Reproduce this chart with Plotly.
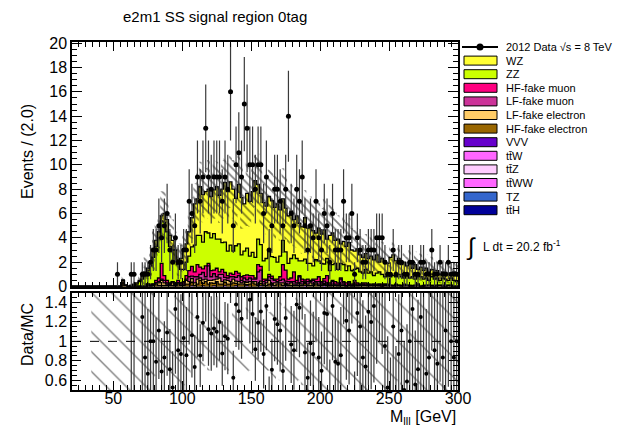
import math
import plotly.graph_objects as go

# binning: 140 bins of 2 GeV from 20 to 300
N_BINS = 140
BIN_LO, BIN_W = 20, 2

# observed events per bin
data = [
    0, 0, 0, 0, 0, 0, 0, 0, 0, 0,
    0, 0, 0, 0, 0, 0, 1, 0, 0, 0,
    0, 1, 1, 0, 0, 1, 1, 1, 2, 3,
    3, 5, 4, 5, 6, 3, 2, 4, 2, 2,
    3, 3, 7, 6, 5, 9, 7, 9, 13, 9,
    8, 9, 9, 9, 7, 9, 8, 16, 5, 10,
    11, 9, 15, 13, 10, 10, 8, 10, 10, 6,
    9, 3, 5, 8, 8, 7, 5, 8, 14, 6,
    5, 8, 7, 9, 5, 3, 5, 4, 7, 4,
    3, 6, 5, 2, 6, 3, 3, 3, 7, 4,
    4, 6, 1, 4, 3, 2, 2, 3, 3, 3,
    4, 4, 4, 2, 1, 1, 3, 1, 2, 2,
    1, 1, 2, 2, 1, 1, 2, 2, 1, 1,
    3, 1, 1, 2, 1, 1, 2, 1, 1, 1,
]

# MC backgrounds
wz = [
    0, 0, 0, 0, 0, 0, 0, 0, 0, 0,
    0, 0, 0, 0, 0, 0, 0, 0, 0, 0,
    0, 0, 0.1, 0.1, 0.1, 0.2, 0.3, 0.2, 0.3, 0.6,
    0.5, 0.5, 0.4, 0.7, 1.0, 0.9, 0.8, 0.9, 0.4, 0.9,
    1.5, 1.5, 2.0, 2.4, 3.4, 3.0, 4.0, 3.9, 3.3, 3.6,
    3.4, 3.6, 4.3, 3.6, 4.4, 4.9, 4.9, 5.2, 5.1, 3.9,
    4.9, 4.7, 3.9, 4.5, 4.5, 5.0, 6.3, 4.5, 4.2, 4.8,
    4.3, 4.4, 4.6, 4.1, 4.8, 3.8, 3.4, 3.6, 3.9, 3.9,
    2.9, 3.5, 3.1, 2.8, 3.4, 2.9, 3.2, 2.9, 2.2, 2.7,
    2.4, 2.8, 1.6, 2.9, 2.6, 1.9, 2.5, 1.6, 1.9, 2.0,
    1.9, 1.7, 1.5, 1.6, 1.4, 1.3, 1.3, 1.2, 1.3, 1.3,
    1.5, 0.8, 1.3, 1.3, 0.8, 1.6, 1.7, 1.3, 1.3, 1.0,
    1.3, 0.8, 1.3, 0.7, 1.2, 0.6, 0.8, 0.7, 0.8, 0.7,
    0.6, 0.5, 0.6, 0.5, 0.5, 0.3, 0.6, 0.3, 0.7, 0.6,
]
zz = [
    0, 0, 0, 0, 0, 0, 0, 0, 0, 0,
    0, 0, 0, 0, 0, 0, 0, 0, 0, 0,
    0, 0.1, 0.1, 0.2, 0.4, 0.6, 0.9, 1.1, 1.5, 2.2,
    2.8, 3.3, 3.5, 4.4, 4.0, 3.0, 2.6, 1.9, 1.3, 1.1,
    1.0, 1.1, 1.2, 1.6, 2.2, 2.4, 2.6, 2.2, 2.8, 2.5,
    2.7, 3.0, 2.4, 2.7, 2.2, 2.5, 2.0, 2.3, 1.9, 2.1,
    2.4, 1.8, 2.0, 2.2, 1.6, 1.9, 1.7, 2.1, 1.8, 1.5,
    1.7, 2.0, 1.6, 1.8, 1.4, 1.7, 2.0, 1.5, 1.3, 1.6,
    1.4, 1.8, 1.2, 1.5, 1.7, 1.3, 1.4, 1.1, 1.6, 1.3,
    1.5, 1.2, 1.4, 1.0, 1.3, 1.5, 1.1, 1.2, 1.4, 1.0,
    1.3, 1.1, 0.9, 1.2, 1.0, 0.8, 1.1, 0.9, 1.0, 0.7,
    0.9, 1.0, 0.8, 0.6, 0.9, 0.7, 0.8, 0.6, 0.9, 0.7,
    0.5, 0.8, 0.6, 0.7, 0.5, 0.6, 0.8, 0.5, 0.6, 0.4,
    0.7, 0.5, 0.6, 0.4, 0.6, 0.5, 0.4, 0.6, 0.5, 0.4,
]
hf_mu = [
    0, 0, 0, 0, 0, 0, 0, 0, 0, 0,
    0, 0, 0, 0, 0, 0, 0, 0, 0, 0,
    0, 0, 0, 0, 0, 0, 0, 0, 0.1, 0,
    0.2, 0.3, 1.3, 0.4, 0.2, 0.1, 0, 0.1, 0.2, 0,
    0.1, 0.3, 0.5, 0.8, 0.4, 1.0, 0.6, 0.3, 0.9, 0.2,
    0.5, 0.3, 0.7, 0.2, 0.4, 0.4, 0.2, 0.3, 0.2, 0.5,
    0.2, 0.3, 0.2, 0.4, 0.2, 0.3, 0.1, 0.6, 0.3, 0.2,
    0.1, 0.2, 0.2, 0.1, 0.2, 0.3, 1.2, 0.9, 0.2, 0.3,
    0.8, 0.2, 0.1, 0.2, 0.1, 0.2, 0.1, 0.1, 0.2, 0.4,
    0.1, 0.2, 0.6, 0.1, 0.1, 0.2, 0.1, 0.1, 0.1, 0.2,
    0.1, 0.1, 0.3, 0.1, 0, 0.1, 0.1, 0, 0.1, 0,
    0.1, 0, 0.2, 0, 0.1, 0, 0, 0.1, 0, 0,
    0.1, 0, 0, 0.1, 0, 0, 0, 0.1, 0, 0,
    0, 0.1, 0, 0, 0, 0.1, 0, 0, 0, 0,
]
lf_mu = [
    0, 0, 0, 0, 0, 0, 0, 0, 0, 0,
    0, 0, 0, 0, 0, 0, 0, 0, 0, 0,
    0, 0, 0, 0, 0, 0, 0, 0, 0.1, 0,
    0, 0.1, 0.1, 0.2, 0.1, 0, 0.1, 0, 0, 0.1,
    0.1, 0.1, 0.4, 0.2, 0.5, 0.2, 0.3, 0.6, 0.2, 1.2,
    0.3, 0.5, 0.2, 0.3, 0.6, 0.2, 0.2, 0.4, 0.2, 0.3,
    0.5, 0.2, 0.3, 0.2, 0.3, 0.2, 0.2, 1.0, 0.9, 0.2,
    0.2, 0.3, 0.4, 0.2, 0.1, 0.2, 0.3, 0.2, 0.2, 0.1,
    0.2, 0.1, 0.5, 0.2, 0.1, 0.2, 0.1, 0.3, 0.1, 0.2,
    0.1, 0.2, 0.1, 0.1, 0.2, 0.1, 0.1, 0.4, 0.1, 0.1,
    0.1, 0.1, 0, 0.1, 0.1, 0, 0.1, 0.1, 0, 0.1,
    0, 0.1, 0, 0.1, 0, 0, 0.1, 0, 0, 0.1,
    0, 0, 0.1, 0, 0, 0.1, 0, 0, 0, 0,
    0.1, 0, 0, 0, 0.1, 0, 0, 0, 0, 0,
]
lf_el = [
    0, 0, 0, 0, 0, 0, 0, 0, 0, 0,
    0, 0, 0, 0, 0, 0, 0, 0, 0.2, 0,
    0, 0, 0, 0, 0, 0, 0, 0.1, 0, 0.1,
    0.1, 0.2, 0.4, 0.2, 0.1, 0.1, 0.2, 0.1, 0.1, 0.1,
    0.1, 0.3, 0.2, 0.3, 0.2, 0.4, 0.2, 0.3, 0.2, 0.3,
    0.2, 0.3, 0.2, 0.5, 0.2, 0.2, 0.3, 0.2, 0.3, 0.2,
    0.2, 0.1, 0.2, 0.2, 0.2, 0.1, 0.2, 0.1, 0.2, 0.1,
    0.2, 0.3, 0.1, 0.2, 0.1, 0.1, 0.2, 0.1, 0.1, 0.2,
    0.1, 0.1, 0.2, 0.1, 0.1, 0.1, 0.2, 0.1, 0.1, 0.1,
    0.1, 0.1, 0.1, 0.1, 0.1, 0, 0.1, 0.1, 0.1, 0,
    0.1, 0, 0.1, 0.1, 0, 0.1, 0, 0.1, 0, 0.1,
    0, 0.1, 0, 0, 0.1, 0, 0, 0.1, 0, 0,
    0.1, 0, 0, 0, 0.1, 0, 0, 0, 0.1, 0,
    0, 0, 0.1, 0, 0, 0, 0, 0.1, 0, 0,
]
hf_el = [
    0, 0, 0, 0, 0, 0, 0, 0, 0, 0,
    0, 0, 0, 0, 0, 0, 0, 0, 0.3, 0.1,
    0, 0, 0, 0, 0, 0, 0, 0.1, 0, 0.1,
    0.2, 0.1, 0.1, 0.1, 0.1, 0.1, 0.1, 0, 0.2, 0.1,
    0.1, 0.2, 0.2, 0.3, 0.1, 0.2, 0.5, 0.2, 0.4, 0.2,
    0.3, 0.2, 0.4, 0.2, 0.2, 0.3, 0.2, 0.2, 0.3, 0.2,
    0.2, 0.2, 0.2, 0.1, 0.2, 0.3, 0.2, 0.1, 0.2, 0.1,
    0.1, 0.2, 0.1, 0.1, 0.2, 0.2, 0.1, 0.1, 0.1, 0.1,
    0.1, 0.1, 0.1, 0.1, 0.2, 0.1, 0.1, 0.1, 0.2, 0.1,
    0.1, 0.1, 0.1, 0, 0.1, 0.1, 0, 0.1, 0.1, 0,
    0.1, 0, 0.1, 0, 0.1, 0.1, 0.1, 0, 0.1, 0,
    0.1, 0, 0, 0.1, 0, 0.1, 0, 0, 0.1, 0,
    0, 0.1, 0, 0, 0, 0.1, 0, 0, 0, 0.1,
    0, 0, 0, 0.1, 0, 0, 0.1, 0, 0, 0,
]
vvv = [
    0, 0, 0, 0, 0, 0, 0, 0, 0, 0,
    0, 0, 0, 0, 0, 0, 0, 0, 0, 0,
    0, 0, 0, 0, 0, 0, 0, 0, 0, 0,
    0, 0, 0, 0, 0, 0, 0, 0, 0, 0,
    0, 0, 0, 0.05, 0, 0, 0, 0.05, 0, 0,
    0, 0.05, 0, 0, 0, 0.05, 0, 0, 0, 0.05,
    0, 0, 0, 0.05, 0, 0, 0, 0, 0.05, 0,
    0, 0, 0.05, 0, 0, 0, 0, 0.05, 0, 0,
    0, 0, 0, 0, 0.05, 0, 0, 0, 0, 0,
    0, 0.05, 0, 0, 0, 0, 0, 0, 0, 0,
    0, 0, 0, 0, 0, 0, 0, 0, 0, 0,
    0, 0, 0, 0, 0, 0, 0, 0, 0, 0,
    0, 0, 0, 0, 0, 0, 0, 0, 0, 0,
    0, 0, 0, 0, 0, 0, 0, 0, 0, 0,
]
# negligible in this region
ttw = [0.0] * N_BINS
ttz = [0.0] * N_BINS
ttww = [0.0] * N_BINS
tz = [0.0] * N_BINS
tth = [0.0] * N_BINS

# relative MC uncertainty (hatched band)
band_rel = [
    0, 0, 0, 0, 0, 0, 0, 1, 1, 1,
    1, 1, 1, 1, 1, 1, 1, 1, 1, 1,
    1, 1, 1, 1, 1, 1, 1, 0.6, 0.6, 0.6,
    0.35, 0.3, 0.35, 0.3, 0.3, 0.4, 0.45, 0.5, 0.6, 0.55,
    0.45, 0.4, 0.35, 0.3, 0.25, 0.3, 0.25, 0.3, 0.25, 0.3,
    0.25, 0.3, 0.25, 0.3, 0.3, 0.25, 0.3, 0.25, 0.3, 0.35,
    0.3, 0.35, 0.3, 0.35, 0.3, 0.3, 0.25, 0.3, 0.35, 0.3,
    0.35, 0.3, 0.35, 0.4, 0.35, 0.4, 0.35, 0.4, 0.4, 0.35,
    0.4, 0.45, 0.4, 0.45, 0.4, 0.5, 0.45, 0.5, 0.55, 0.5,
    0.5, 0.55, 0.5, 0.6, 0.55, 0.6, 0.5, 0.55, 0.6, 0.6,
    0.55, 0.6, 0.6, 0.55, 0.6, 0.65, 0.6, 0.6, 0.65, 0.6,
    0.6, 0.65, 0.6, 0.55, 0.5, 0.45, 0.4, 0.45, 0.4, 0.45,
    0.4, 0.45, 0.5, 0.55, 0.6, 0.65, 0.7, 0.7, 0.75, 0.7,
    0.75, 0.7, 0.8, 0.75, 0.8, 0.7, 0.8, 0.75, 0.7, 0.8,
]

for arr in (data, wz, zz, hf_mu, lf_mu, lf_el, hf_el, vvv, band_rel):
    assert len(arr) == N_BINS

edges = [BIN_LO + BIN_W * k for k in range(N_BINS + 1)]
centers = [e + BIN_W / 2 for e in edges[:-1]]

# stack order bottom -> top
stack = [
    ("ttH", tth, "#000099"),
    ("TZ", tz, "#3366cc"),
    ("ttWW", ttww, "#ff66ff"),
    ("ttZ", ttz, "#ffccff"),
    ("ttW", ttw, "#ff66ff"),
    ("VVV", vvv, "#6600cc"),
    ("HF-fake electron", hf_el, "#996600"),
    ("LF-fake electron", lf_el, "#ffcc66"),
    ("LF-fake muon", lf_mu, "#cc3399"),
    ("HF-fake muon", hf_mu, "#ff0080"),
    ("ZZ", zz, "#ccff00"),
    ("WZ", wz, "#ffff33"),
]

fig = go.Figure()

# filled stack
for name, vals, col in stack:
    fig.add_trace(go.Bar(
        x=centers, y=vals, width=BIN_W, marker=dict(color=col, line=dict(width=0)),
        xaxis="x", yaxis="y", name=name,
    ))

# outlines of each stacked layer
cum = [0.0] * N_BINS
for name, vals, col in stack:
    cum = [c + v for c, v in zip(cum, vals)]
    if max(vals) <= 0:
        continue
    fig.add_trace(go.Scatter(
        x=edges, y=cum + [cum[-1]], mode="lines", line=dict(color="black", width=1.3, shape="hv"),
        xaxis="x", yaxis="y", hoverinfo="skip",
    ))
total = cum

# hatched uncertainty band in main panel
up = [t * (1 + r) for t, r in zip(total, band_rel)]
lo = [max(t * (1 - r), 0) for t, r in zip(total, band_rel)]
px, py = [], []
for k in range(N_BINS):
    px += [edges[k], edges[k + 1]]
    py += [up[k], up[k]]
for k in reversed(range(N_BINS)):
    px += [edges[k + 1], edges[k]]
    py += [lo[k], lo[k]]
hatch = dict(shape="\\", fgcolor="black", bgcolor="rgba(0,0,0,0)", size=6, solidity=0.3, fillmode="overlay")
fig.add_trace(go.Scatter(
    x=px, y=py, fill="toself", fillcolor="rgba(0,0,0,0)", fillpattern=hatch,
    mode="lines", line=dict(width=0), xaxis="x", yaxis="y", hoverinfo="skip",
))

# data points
dx = [c for c, n in zip(centers, data) if n > 0]
dy = [n for n in data if n > 0]
fig.add_trace(go.Scatter(
    x=dx, y=dy, mode="markers", marker=dict(color="black", size=5),
    error_y=dict(type="data", array=[math.sqrt(n) for n in dy], width=0, thickness=1.2, color="#3a3a3a"),
    xaxis="x", yaxis="y",
))

# ratio band
rpx, rpy = [], []
for k in range(N_BINS):
    rpx += [edges[k], edges[k + 1]]
    rpy += [1 + band_rel[k]] * 2
for k in reversed(range(N_BINS)):
    rpx += [edges[k + 1], edges[k]]
    rpy += [1 - band_rel[k]] * 2
fig.add_trace(go.Scatter(
    x=rpx, y=rpy, fill="toself", fillcolor="rgba(0,0,0,0)",
    fillpattern=dict(hatch, size=14, solidity=0.1),
    mode="lines", line=dict(width=0), xaxis="x2", yaxis="y2", hoverinfo="skip",
))

# ratio points
rx, ry, re = [], [], []
for c, n, t in zip(centers, data, total):
    if n > 0 and t > 0.05:
        rx.append(c)
        ry.append(n / t)
        re.append(math.sqrt(n) / t)
fig.add_trace(go.Scatter(
    x=rx, y=ry, mode="markers", marker=dict(color="black", size=4),
    error_y=dict(type="data", array=re, width=0, thickness=1.2, color="#3a3a3a"),
    xaxis="x2", yaxis="y2",
))

FONT = "Liberation Sans, Arial, sans-serif"
axis_common = dict(
    ticks="inside", showline=True, linecolor="black", linewidth=1.5, mirror="allticks",
    showgrid=False, zeroline=False, tickcolor="black", tickwidth=1.2,
    tickfont=dict(family=FONT, size=16, color="black"),
)
main_bottom = (390 - 286.5) / 348
ratio_top = (390 - 292.7) / 348

# the page body adds 8px of margin, so the figure is drawn 8px smaller
fig.update_layout(
    width=616, height=420,
    margin=dict(l=64, r=166, t=34, b=38, autoexpand=False),
    plot_bgcolor="white", paper_bgcolor="white",
    barmode="stack", bargap=0, showlegend=False,
    font=dict(family=FONT, size=16, color="black"),
    xaxis=dict(axis_common, domain=[0, 1], anchor="y", range=[20, 300], matches="x2",
               showticklabels=False, tick0=0, dtick=50, ticklen=9,
               minor=dict(dtick=5, ticklen=5, ticks="inside", tickcolor="black")),
    yaxis=dict(axis_common, domain=[main_bottom, 1], anchor="x", range=[0, 20.1],
               tick0=0, dtick=2, ticklen=10,
               minor=dict(dtick=0.5, ticklen=5, ticks="inside", tickcolor="black")),
    xaxis2=dict(axis_common, domain=[0, 1], anchor="y2", range=[20, 300],
                tick0=0, dtick=50, ticklen=9, ticklabelstandoff=-7,
                minor=dict(dtick=5, ticklen=5, ticks="inside", tickcolor="black")),
    yaxis2=dict(axis_common, domain=[0, ratio_top], anchor="x2", range=[0.5, 1.5],
                tick0=0.2, dtick=0.2, ticklen=9,
                minor=dict(dtick=0.05, ticklen=5, ticks="inside", tickcolor="black")),
)

fig.add_shape(type="line", xref="x2", yref="y2", x0=20, x1=300, y0=1, y1=1,
              line=dict(color="black", width=1, dash="dash"))


def paper_x(pix):
    return (pix - 72) / 386


def paper_y(pix):
    return (390 - pix) / 348


annotations = [
    dict(text="e2m1 SS signal region 0tag", x=paper_x(215), y=paper_y(17), font=dict(size=15)),
    dict(text="Events / (2.0)", x=paper_x(27), y=paper_y(152), textangle=-90, font=dict(size=16)),
    dict(text="Data/MC", x=paper_x(27), y=paper_y(335), textangle=-90, font=dict(size=16)),
    dict(text="M<sub>lll</sub> [GeV]", x=1.0, y=paper_y(417), xanchor="right", font=dict(size=16)),
    dict(text="∫", x=paper_x(471), y=paper_y(247), font=dict(size=24)),
    dict(text="L dt = 20.2 fb<sup>-1</sup>", x=paper_x(481), y=paper_y(246), xanchor="left",
         font=dict(size=12)),
]

# legend drawn by hand (ROOT style, tight rows)
legend_rows = [("WZ", "#ffff33"), ("ZZ", "#ccff00"), ("HF-fake muon", "#ff0080"),
               ("LF-fake muon", "#cc3399"), ("LF-fake electron", "#ffcc66"),
               ("HF-fake electron", "#996600"), ("VVV", "#6600cc"), ("tt\u0304W", "#ff66ff"),
               ("tt\u0304Z", "#ffccff"), ("tt\u0304WW", "#ff66ff"), ("TZ", "#3366cc"),
               ("tt\u0304H", "#000099")]
ROW0, ROW_DY = 47, 13.6
y0 = paper_y(ROW0)
fig.add_shape(type="line", xref="paper", yref="paper", x0=paper_x(462), x1=paper_x(498), y0=y0, y1=y0,
              line=dict(color="black", width=2))
fig.add_shape(type="circle", xref="paper", yref="paper", x0=paper_x(476.5), x1=paper_x(483.5),
              y0=y0 - 3.5 / 348, y1=y0 + 3.5 / 348, fillcolor="black", line=dict(color="black", width=0))
annotations.append(dict(text="2012 Data √s = 8 TeV", x=paper_x(504), y=y0, xanchor="left",
                        font=dict(size=11)))
for k, (name, col) in enumerate(legend_rows, start=1):
    yc = paper_y(ROW0 + ROW_DY * k)
    fig.add_shape(type="rect", xref="paper", yref="paper", x0=paper_x(464), x1=paper_x(497),
                  y0=yc - 4.5 / 348, y1=yc + 4.5 / 348, fillcolor=col, line=dict(color="black", width=1))
    annotations.append(dict(text=name, x=paper_x(504), y=yc, xanchor="left", font=dict(size=11)))

for a in annotations:
    a.setdefault("xanchor", "center")
    a.update(xref="paper", yref="paper", showarrow=False, yanchor="middle")
    a["font"] = dict(family=FONT, color="black", **a["font"])
fig.update_layout(annotations=annotations)

fig.write_html("out.html")
